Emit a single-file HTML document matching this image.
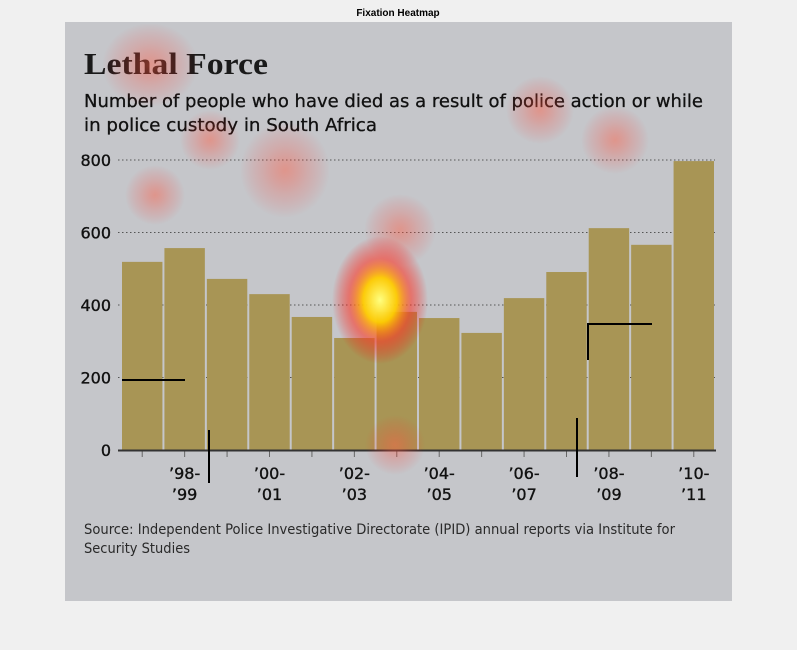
<!DOCTYPE html>
<html><head><meta charset="utf-8"><style>
body{margin:0;background:#f0f0f0;width:797px;height:650px;overflow:hidden}
svg{display:block}
</style></head><body>
<svg width="797" height="650">
<defs>
<radialGradient id="hot"><stop offset="0" stop-color="#ffff80"/><stop offset="0.35" stop-color="#ffcc00" stop-opacity="0.95"/><stop offset="0.65" stop-color="#ff3020" stop-opacity="0.55"/><stop offset="1" stop-color="#ff0000" stop-opacity="0"/></radialGradient>
<radialGradient id="warm"><stop offset="0" stop-color="#ff5a40" stop-opacity="0.45"/><stop offset="0.5" stop-color="#ff4030" stop-opacity="0.2"/><stop offset="1" stop-color="#ff2020" stop-opacity="0"/></radialGradient>
</defs>
<text x="398" y="16" font-family="Liberation Sans, sans-serif" font-size="10" font-weight="bold" text-anchor="middle">Fixation Heatmap</text>
<rect x="65" y="22" width="667" height="579" fill="#c5c6ca"/>
<text x="84" y="74" font-family="Liberation Serif, serif" font-size="31" font-weight="bold" fill="#1a1a1a" textLength="184" lengthAdjust="spacingAndGlyphs">Lethal Force</text>
<text x="84" y="107" font-family="DejaVu Sans, Liberation Sans, sans-serif" font-size="18" fill="#111" stroke="#111" stroke-width="0.3" textLength="619" lengthAdjust="spacingAndGlyphs">Number of people who have died as a result of police action or while</text>
<text x="84" y="131" font-family="DejaVu Sans, Liberation Sans, sans-serif" font-size="18" fill="#111" stroke="#111" stroke-width="0.3" textLength="293" lengthAdjust="spacingAndGlyphs">in police custody in South Africa</text>
<g id="grid"></g>
<g id="bars"></g>
<g id="axis"></g>
<text x="84" y="534" font-family="DejaVu Sans, Liberation Sans, sans-serif" font-size="14" fill="#2a2a2a" textLength="591" lengthAdjust="spacingAndGlyphs">Source: Independent Police Investigative Directorate (IPID) annual reports via Institute for</text>
<text x="84" y="553" font-family="DejaVu Sans, Liberation Sans, sans-serif" font-size="14" fill="#2a2a2a" textLength="106" lengthAdjust="spacingAndGlyphs">Security Studies</text>
<g>
<ellipse cx="150" cy="65" rx="48" ry="42" fill="url(#warm)"/>
<ellipse cx="285" cy="170" rx="45" ry="48" fill="url(#warm)"/>
<ellipse cx="155" cy="195" rx="30" ry="30" fill="url(#warm)"/>
<ellipse cx="540" cy="110" rx="34" ry="34" fill="url(#warm)"/>
<ellipse cx="615" cy="140" rx="34" ry="34" fill="url(#warm)"/>
<ellipse cx="400" cy="230" rx="36" ry="36" fill="url(#warm)"/>
<ellipse cx="210" cy="140" rx="30" ry="30" fill="url(#warm)"/>
<ellipse cx="380" cy="300" rx="48" ry="64" fill="url(#hot)"/>
<ellipse cx="395" cy="445" rx="30" ry="30" fill="url(#warm)"/>
</g>
<g stroke="#000" stroke-width="2" fill="none">
<line x1="122" y1="380" x2="185" y2="380"/>
<line x1="209" y1="430" x2="209" y2="483"/>
<line x1="577" y1="418" x2="577" y2="477"/>
<polyline points="588,360 588,324 652,324"/>
</g>
</svg>
<script>
const categories=["'97-'98","'98-'99","'99-'00","'00-'01","'01-'02","'02-'03","'03-'04","'04-'05","'05-'06","'06-'07","'07-'08","'08-'09","'09-'10","'10-'11"];
const deaths=[519,557,472,430,367,309,381,364,323,419,491,612,566,797];
const yTicks=[0,200,400,600,800];
const xLabelsTop={1:"’98-",3:"’00-",5:"’02-",7:"’04-",9:"’06-",11:"’08-",13:"’10-"};
const xLabelsBot={1:"’99",3:"’01",5:"’03",7:"’05",9:"’07",11:"’09",13:"’11"};
const NS="http://www.w3.org/2000/svg";
const x0=121,x1=715,y0=450,yTop=160,maxV=800;
const bw=(x1-x0)/categories.length;
const y=v=>y0-(v/maxV)*(y0-yTop);
const xc=i=>x0+bw*(i+0.5);
function mk(t,a,p){const e=document.createElementNS(NS,t);for(const k in a)e.setAttribute(k,a[k]);p.appendChild(e);return e;}
const grid=document.getElementById('grid'),bars=document.getElementById('bars'),axis=document.getElementById('axis');
const lblFont={'font-family':'DejaVu Sans, Liberation Sans, sans-serif','font-size':16,fill:'#111',stroke:'#111','stroke-width':0.35};
yTicks.forEach(v=>{
  if(v>0){const l=mk('line',{x1:118,x2:715,y1:y(v),y2:y(v),stroke:'#555','stroke-width':1,'stroke-dasharray':'1.5,2.5'},grid);
  
  }
  const t=mk('text',Object.assign({x:111,y:y(v)+6,'text-anchor':'end'},lblFont),axis);
  t.textContent=v;
  
  
});
deaths.forEach((v,i)=>{
  const r=mk('rect',{x:x0+bw*i+1,y:y(v),width:bw-2,height:y0-y(v),fill:'#a89555'},bars);
  
  
  const tk=mk('line',{x1:xc(i),x2:xc(i),y1:451,y2:457,stroke:'#666','stroke-width':1},axis);
  
  
  if(xLabelsTop[i]){
    const a=mk('text',Object.assign({x:xc(i),y:479,'text-anchor':'middle'},lblFont),axis);
    a.textContent=xLabelsTop[i];
    
    
    const b=mk('text',Object.assign({x:xc(i),y:500,'text-anchor':'middle'},lblFont),axis);
    b.textContent=xLabelsBot[i];
    
    
  }
});
const ax=mk('line',{x1:118,x2:716,y1:450.5,y2:450.5,stroke:'#333','stroke-width':2},axis);


</script>
</body></html>
